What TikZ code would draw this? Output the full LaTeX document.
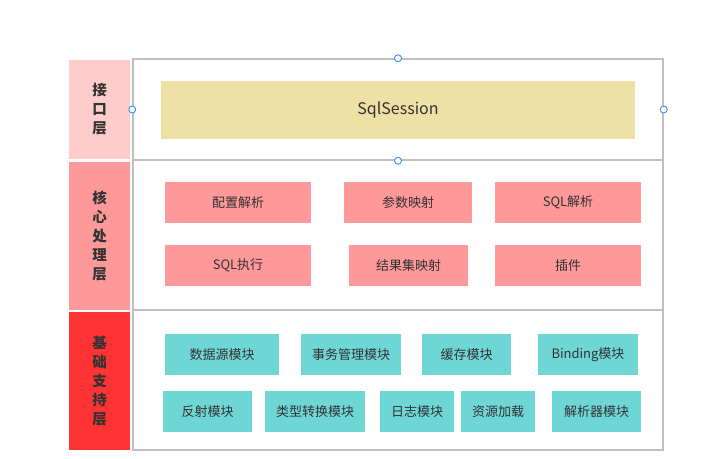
\documentclass[tikz,border=0pt]{standalone}
\usepackage{fontspec}
\setmainfont{Noto Sans CJK SC}
\definecolor{txt}{HTML}{333333}
\definecolor{frm}{HTML}{BFBFBF}
\definecolor{lay1}{HTML}{FFCCCC}
\definecolor{lay2}{HTML}{FF9999}
\definecolor{lay3}{HTML}{FF3333}
\definecolor{sqlc}{HTML}{EFE1A5}
\definecolor{pinkb}{HTML}{FF9999}
\definecolor{cyanb}{HTML}{6FD6D6}
\definecolor{hdl}{HTML}{3D8EF0}
\tikzset{
  layerlbl/.style={fill=#1, draw=none, text=txt, align=center, inner sep=0pt,
    font=\fontsize{14.5}{19}\selectfont\bfseries, minimum width=61},
  rowframe/.style={draw=frm, line width=1.5pt, fill=white, inner sep=0pt, minimum width=530},
  pbox/.style={fill=pinkb, draw=none, text=txt, inner sep=0pt, minimum height=41,
    font=\fontsize{13}{15}\selectfont},
  cbox/.style={fill=cyanb, draw=none, text=txt, inner sep=0pt, minimum height=41,
    font=\fontsize{13}{15}\selectfont},
  handle/.style={circle, draw=hdl, fill=white, line width=0.9pt, minimum size=7, inner sep=0pt}
}
\begin{document}
\begin{tikzpicture}[x=1pt,y=-1pt]
\useasboundingbox (0,0) rectangle (728,458);
% layer labels
\node[layerlbl=lay1, minimum height=99] (L1) at (99.5,109.5) {接\\口\\层};
\node[layerlbl=lay2, minimum height=148] (L2) at (99.5,236) {核\\心\\处\\理\\层};
\node[layerlbl=lay3, minimum height=138] (L3) at (99.5,381) {基\\础\\支\\持\\层};
% row frames
\node[rowframe, minimum height=101] (F1) at (398,109.5) {};
\node[rowframe, minimum height=150] (F2) at (398,235) {};
\node[rowframe, minimum height=140] (F3) at (398,380) {};
% interface layer
\node[fill=sqlc, draw=none, text=txt, inner sep=0pt, minimum width=474, minimum height=58,
  font=\fontsize{16}{18}\selectfont] (sql) at (398,110) {SqlSession};
% core layer
\node[pbox, minimum width=146] (c1) at (238,202.5) {配置解析};
\node[pbox, minimum width=128] (c2) at (408,202.5) {参数映射};
\node[pbox, minimum width=146] (c3) at (568,202.5) {SQL解析};
\node[pbox, minimum width=146] (c4) at (238,265.5) {SQL执行};
\node[pbox, minimum width=119] (c5) at (408.5,265.5) {结果集映射};
\node[pbox, minimum width=146] (c6) at (568,265.5) {插件};
% base layer
\node[cbox, minimum width=114] (b1) at (222,354.5) {数据源模块};
\node[cbox, minimum width=100] (b2) at (351,354.5) {事务管理模块};
\node[cbox, minimum width=89] (b3) at (466.5,354.5) {缓存模块};
\node[cbox, minimum width=100] (b4) at (588,354.5) {Binding模块};
\node[cbox, minimum width=89] (b5) at (207.5,411.5) {反射模块};
\node[cbox, minimum width=100] (b6) at (315,411.5) {类型转换模块};
\node[cbox, minimum width=74] (b7) at (417,411.5) {日志模块};
\node[cbox, minimum width=74] (b8) at (498,411.5) {资源加载};
\node[cbox, minimum width=89] (b9) at (596.5,411.5) {解析器模块};
% selection handles
\node[handle] (h1) at (F1.north) {};
\node[handle] (h2) at (F1.west) {};
\node[handle] (h3) at (F1.east) {};
\node[handle] (h4) at (F1.south) {};
\end{tikzpicture}
\end{document}
